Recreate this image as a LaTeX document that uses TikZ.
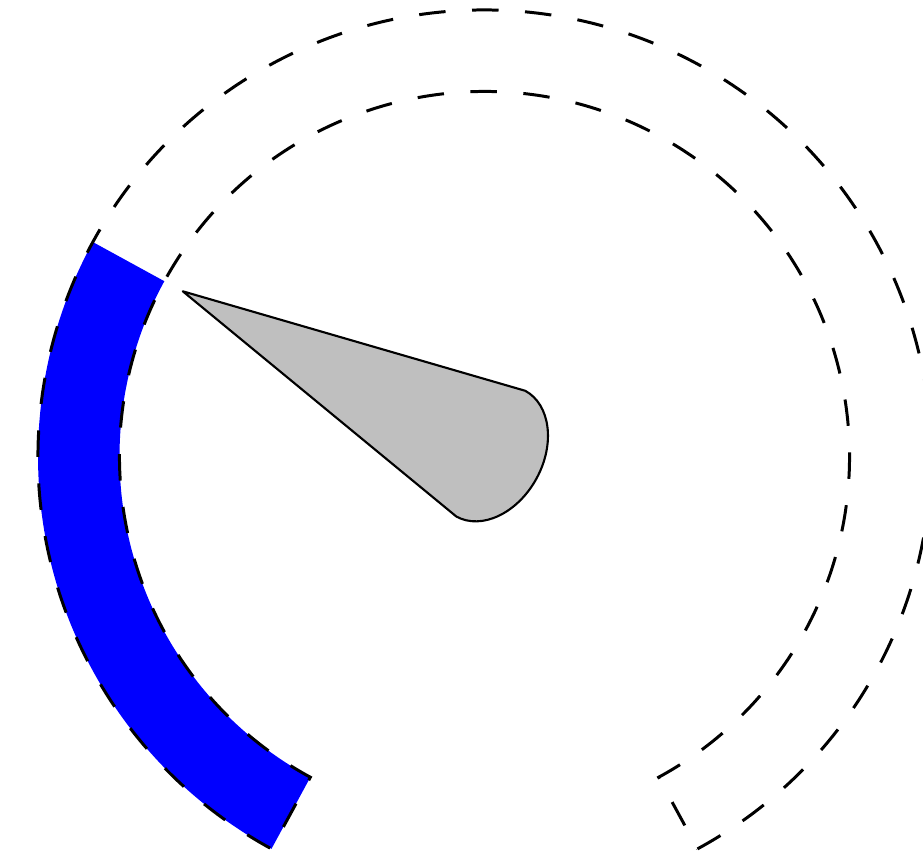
\documentclass[tikz,border=0pt]{standalone}
\usetikzlibrary{calc}
\begin{document}
\begin{tikzpicture}[x=0.01cm,y=0.01cm,
  gaugeedge/.style={line width=0.85pt,dash pattern=on 0.265cm off 0.265cm},
  needlestyle/.style={fill=gray!50,draw=black,line width=0.6pt,line join=round}]
\useasboundingbox (0,0) rectangle (923,858);
\clip (0,0) rectangle (923,858);
\coordinate (c) at (484.5,401.5);
\def\gRo{446.5}
\def\gRi{365}
% blue value band
\fill[blue] ($(c)+(151.3:\gRo)$) arc[start angle=151.3,end angle=241.5,radius=\gRo]
  -- ($(c)+(241.5:\gRi)$) arc[start angle=241.5,end angle=151.3,radius=\gRi] -- cycle;
% dashed gauge outline
\draw[gaugeedge] ($(c)+(-61.5:\gRo)$) arc[start angle=-61.5,end angle=241.5,radius=\gRo]
  -- ($(c)+(241.5:\gRi)$) arc[start angle=241.5,end angle=-61.5,radius=\gRi] -- cycle;
% needle
\begin{scope}[shift={(c)},rotate=151.3]
  \draw[needlestyle] (344,0) -- (-4.2,-77.2)
    arc[start angle=-90,end angle=-270,x radius=52,y radius=71.7] -- cycle;
\end{scope}
\end{tikzpicture}
\end{document}
